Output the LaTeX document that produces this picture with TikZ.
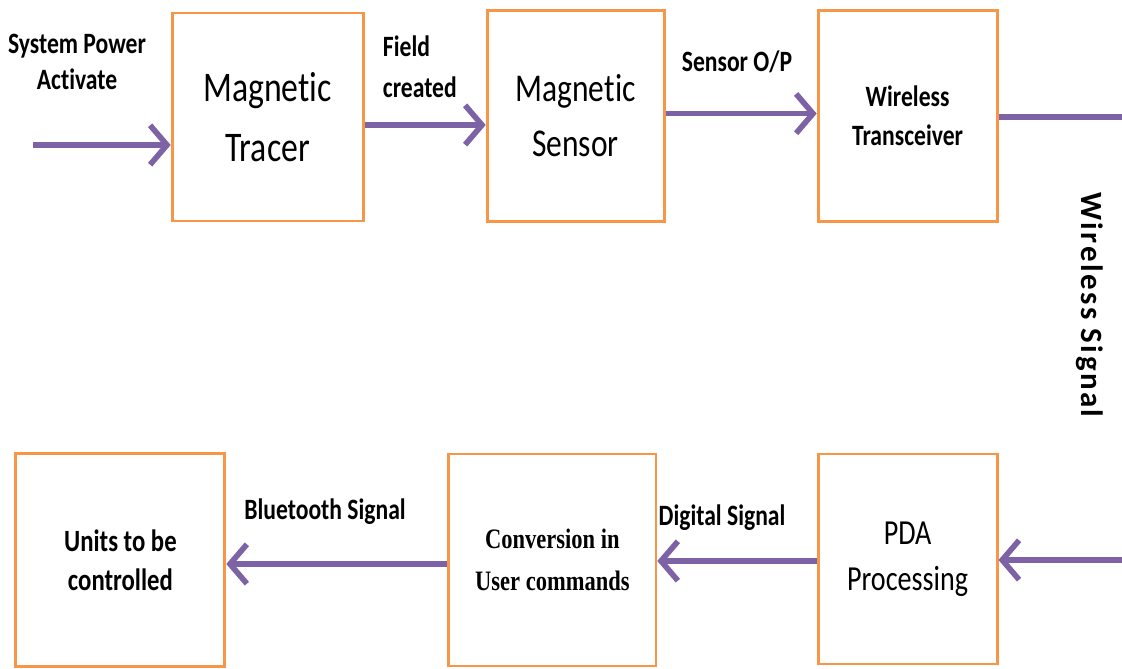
\documentclass[tikz,border=0pt]{standalone}
\usepackage{fontspec}
\setmainfont{Carlito}[FakeStretch=0.8, Ligatures=CommonOff]
\newfontfamily\convfont{Liberation Serif}[FakeStretch=0.8]
\newfontfamily\vertfont{Carlito}[LetterSpace=8, Ligatures=CommonOff]
\usetikzlibrary{arrows.meta, positioning}
\definecolor{boxorange}{HTML}{F79646}
\definecolor{flowpurple}{HTML}{7E62A6}

\begin{document}
\begin{tikzpicture}[
		block/.style={draw=boxorange, line width=2pt, rectangle, align=center, inner sep=0pt},
		flow/.style={draw=flowpurple, line width=4pt, -{Straight Barb[length=12pt, width=28pt]}},
		wire/.style={draw=flowpurple, line width=4pt},
		lbl/.style={font=\bfseries\fontsize{21}{25}\selectfont, align=center}]
		\useasboundingbox (0,0) rectangle (28.05,-16.725);

		% Top row
		\begin{scope}
			\node (tracer) at (6.69, -2.925) [block, minimum width=4.775cm, minimum height=5.2cm, font=\fontsize{30}{43}\selectfont] {Magnetic\\Tracer};
			\node (sensor) at (14.39, -2.89) [block, minimum width=4.425cm, minimum height=5.275cm, font=\fontsize{28}{39}\selectfont] {Magnetic\\Sensor};
			\node (trans) at (22.69, -2.89) [block, minimum width=4.475cm, minimum height=5.275cm, font=\bfseries\fontsize{21}{28}\selectfont] {Wireless\\Transceiver};
		\end{scope}

		% Bottom row
		\begin{scope}
			\node (units) at (3.01, -14.01) [block, minimum width=5.225cm, minimum height=5.325cm, font=\bfseries\fontsize{22}{28}\selectfont] {Units to be\\controlled};
			\node (conv) at (13.81, -14.0) [block, minimum width=5.175cm, minimum height=5.3cm, font=\convfont\bfseries\fontsize{20}{30}\selectfont] {Conversion in\\User commands};
			\node (pda) at (22.69, -13.975) [block, minimum width=4.475cm, minimum height=5.25cm, font=\fontsize{25}{33}\selectfont] {PDA\\Processing};
		\end{scope}

		% Free ends
		\coordinate (in) at (0.825, -3.625);
		\coordinate (rtop) at (28.1, -2.925);
		\coordinate (rbot) at (28.1, -14.0);

		% Connectors
		\draw[flow] (in) -- (in -| tracer.west);
		\draw[flow] ([yshift=-0.2cm]tracer.east) -- ([yshift=-0.2cm]tracer.east -| sensor.west);
		\draw[flow] ([yshift=0.05cm]sensor.east) -- ([yshift=0.05cm]sensor.east -| trans.west);
		\draw[wire] (trans.east |- rtop) -- (rtop);
		\draw[flow] (rbot) -- (rbot -| pda.east);
		\draw[flow] ([yshift=-0.05cm]pda.west) -- ([yshift=-0.05cm]pda.west -| conv.east);
		\draw[flow] ([yshift=-0.1cm]conv.west) -- ([yshift=-0.1cm]conv.west -| units.east);

		% Labels
		\node (power) at (1.925, -1.55) [lbl] {System Power\\Activate};
		\node (field) at (9.45, -1.675) [lbl, anchor=west, align=left, font=\bfseries\fontsize{21}{29}\selectfont] {Field\\created};
		\node (sensop) at (18.425, -1.55) [lbl] {Sensor O/P};
		\node (wsig) at (27.25, -7.625) [lbl, rotate=-90, font=\vertfont\bfseries\fontsize{22}{26}\selectfont] {Wireless Signal};
		\node (btsig) at (8.125, -12.8) [lbl] {Bluetooth Signal};
		\node (dsig) at (18.05, -12.95) [lbl] {Digital Signal};

	\end{tikzpicture}
\end{document}
